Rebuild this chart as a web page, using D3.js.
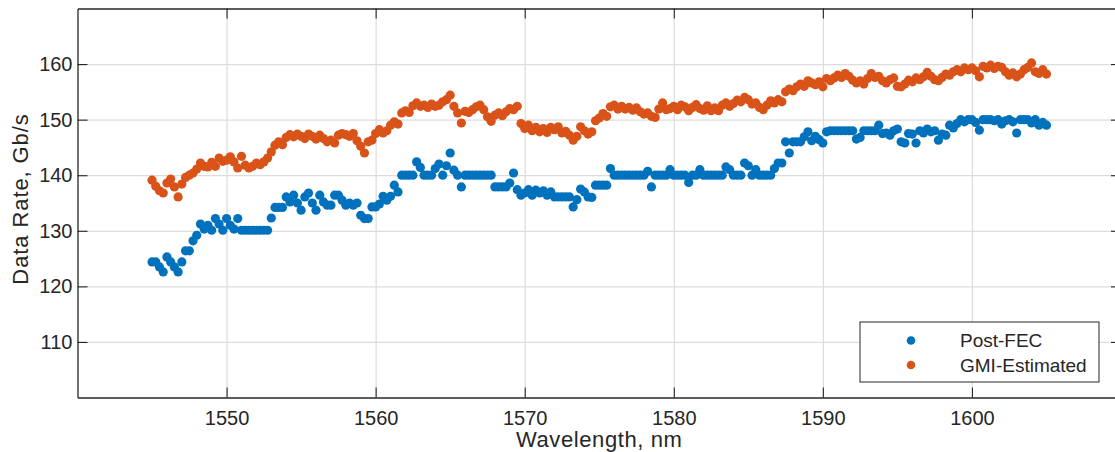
<!DOCTYPE html>
<html>
<head>
<meta charset="utf-8">
<script src="https://cdn.jsdelivr.net/npm/d3@7"></script>
<style>
  html, body { margin: 0; padding: 0; background: #fff; }
  svg { display: block; font-family: "Liberation Sans", Arial, Helvetica, sans-serif; }
</style>
</head>
<body>
<svg id="chart" width="1115" height="452"></svg>
<script>
// channel grid, 0.25 nm spacing from 1545 to 1605 nm
const wavelengths = d3.range(1545, 1605.25, 0.25);

// Post-FEC data rate, Gb/s (one row = 5 nm)
const postFEC = [
  124.4, 124.4, 123.5, 122.6, 125.3, 124.4, 123.5, 122.6, 124.4, 126.4, 126.4, 128.2, 129.2, 131.2, 130.3, 131.0, 130.1, 132.2, 131.2, 130.1,
  132.2, 131.0, 130.3, 132.2, 130.1, 130.1, 130.1, 130.1, 130.1, 130.1, 130.1, 130.1, 132.3, 134.2, 134.2, 134.2, 136.1, 135.2, 136.4, 135.0,
  133.7, 136.1, 136.8, 135.0, 133.7, 136.4, 135.2, 134.6, 134.6, 136.4, 136.4, 135.5, 134.6, 135.0, 134.6, 135.0, 132.8, 132.2, 132.2, 134.3,
  134.3, 134.8, 136.2, 135.5, 136.2, 138.2, 137.0, 140.0, 140.0, 140.0, 140.0, 142.4, 141.4, 140.0, 140.0, 140.0, 141.2, 142.0, 140.0, 141.7,
  144.0, 140.9, 140.0, 137.9, 140.0, 140.0, 140.0, 140.0, 140.0, 140.0, 140.0, 140.0, 137.9, 137.9, 137.9, 137.9, 138.6, 140.4, 137.4, 136.4,
  136.8, 137.4, 136.4, 137.3, 136.8, 137.2, 136.4, 137.0, 136.1, 136.1, 136.1, 136.1, 136.1, 134.3, 135.6, 137.5, 137.0, 136.1, 136.0, 138.2,
  138.2, 138.2, 138.2, 141.2, 140.0, 140.0, 140.0, 140.0, 140.0, 140.0, 140.0, 140.0, 140.0, 140.7, 137.9, 140.0, 140.0, 140.0, 140.0, 141.0,
  140.0, 140.0, 140.0, 140.0, 138.7, 140.0, 140.0, 141.0, 140.0, 140.0, 140.0, 140.0, 140.0, 140.0, 141.5, 141.0, 140.0, 140.0, 140.0, 142.2,
  141.7, 140.0, 141.0, 140.0, 140.0, 140.0, 140.0, 141.2, 142.2, 142.2, 146.0, 144.0, 146.0, 146.0, 146.0, 146.9, 147.8, 146.2, 147.0, 146.4,
  145.8, 147.8, 148.0, 148.0, 148.0, 148.0, 148.0, 148.0, 148.0, 146.5, 146.8, 148.0, 148.0, 148.0, 148.0, 149.0, 147.5, 147.6, 147.2, 148.0,
  148.3, 146.0, 145.8, 147.5, 147.4, 145.8, 148.0, 147.6, 148.3, 147.8, 148.0, 146.3, 147.4, 147.2, 149.0, 148.5, 149.3, 150.0, 149.6, 150.0,
  150.0, 149.5, 148.1, 150.0, 150.0, 150.0, 149.8, 150.0, 149.2, 149.8, 150.0, 149.6, 147.6, 150.0, 150.0, 150.0, 149.4, 150.0, 149.0, 149.5,
  149.0
];

// GMI-estimated data rate, Gb/s (one row = 5 nm)
const gmiEstimated = [
  139.1, 138.0, 137.2, 136.8, 138.6, 139.3, 137.9, 136.1, 138.4, 139.6, 140.0, 140.4, 141.1, 142.2, 141.6, 141.5, 142.3, 141.6, 143.1, 142.5,
  142.7, 143.3, 142.4, 141.3, 143.4, 141.8, 141.3, 141.6, 142.2, 141.9, 142.4, 143.1, 144.2, 145.4, 146.0, 145.5, 146.8, 147.3, 146.9, 147.4,
  147.0, 146.6, 147.4, 147.0, 146.5, 147.2, 146.6, 146.0, 146.3, 145.8, 147.2, 147.5, 147.3, 147.0, 147.5, 146.2, 145.2, 144.0, 146.0, 146.3,
  147.5, 148.2, 147.6, 148.0, 149.0, 149.6, 149.2, 151.2, 151.6, 151.3, 152.5, 153.0, 152.4, 152.6, 152.2, 152.8, 152.4, 152.6, 153.2, 153.6,
  154.4, 152.4, 151.2, 149.4, 151.5, 151.3, 151.8, 152.3, 152.6, 151.8, 150.5, 149.7, 150.8, 151.2, 150.7, 151.4, 152.0, 151.8, 152.4, 149.3,
  148.4, 149.0, 148.0, 148.6, 147.8, 148.4, 147.7, 148.6, 148.2, 148.7, 147.6, 147.9, 147.2, 146.3, 147.0, 148.7, 148.0, 147.4, 147.8, 149.8,
  150.3, 151.1, 150.6, 152.3, 152.6, 151.9, 152.4, 151.9, 152.2, 151.7, 152.1, 151.4, 151.0, 151.2, 150.6, 150.4, 151.9, 153.0, 151.8, 152.0,
  152.4, 151.8, 152.6, 152.3, 151.6, 152.2, 152.7, 152.0, 151.7, 152.5, 151.6, 152.1, 151.6, 152.6, 153.0, 152.4, 152.9, 153.5, 153.2, 154.0,
  153.6, 152.8, 153.0, 152.2, 151.8, 152.6, 153.4, 153.0, 153.6, 153.2, 155.0, 155.5, 155.2, 155.9, 156.4, 156.0, 157.0, 156.6, 156.3, 156.8,
  155.9, 157.4, 157.0, 157.5, 158.0, 157.6, 158.3, 157.8, 157.1, 156.6, 157.0, 156.4, 157.4, 158.3, 157.6, 157.8, 157.0, 156.6, 157.2, 157.5,
  156.0, 155.9, 156.4, 157.1, 156.8, 157.5, 157.2, 157.7, 158.5, 157.8, 157.2, 157.0, 157.6, 158.2, 158.0, 158.6, 159.0, 158.6, 159.3, 159.0,
  159.3, 158.8, 157.7, 159.6, 159.3, 159.8, 159.2, 159.6, 159.4, 158.6, 158.0, 158.4, 157.7, 158.2, 159.0, 159.4, 160.2, 158.6, 158.3, 159.0,
  158.2
];

const seriesNames = ["Post-FEC", "GMI-Estimated"];
const seriesColors = ["#0072BD", "#D95319"];
const xTicks = [1550, 1560, 1570, 1580, 1590, 1600];
const yTicks = [110, 120, 130, 140, 150, 160];

const plot = {left: 77.5, top: 8.5, right: 1121, bottom: 397.5};
const width = plot.right - plot.left;
const height = plot.bottom - plot.top;
const axisColor = "#262626";

let svg = d3.select("#chart");

let x = d3.scaleLinear()
    .domain([1540, 1610])
    .range([plot.left, plot.right]);

let y = d3.scaleLinear()
    .domain([100, 170])
    .range([plot.bottom, plot.top]);

// grid
svg.append("g")
    .attr("class", "grid")
    .attr("transform", "translate(0," + plot.bottom + ")")
    .call(d3.axisBottom(x).tickValues(xTicks).tickSize(-height).tickFormat(""))
    .call(g => g.select(".domain").remove())
    .call(g => g.selectAll("line").attr("stroke", "#dcdcdc").attr("stroke-width", 1.2));

svg.append("g")
    .attr("class", "grid")
    .attr("transform", "translate(" + plot.left + ",0)")
    .call(d3.axisLeft(y).tickValues(yTicks).tickSize(-width).tickFormat(""))
    .call(g => g.select(".domain").remove())
    .call(g => g.selectAll("line").attr("stroke", "#dcdcdc").attr("stroke-width", 1.2));

// points
[postFEC, gmiEstimated].forEach(function(values, k) {
    svg.append("g")
        .attr("fill", seriesColors[k])
        .selectAll("circle")
        .data(values)
        .enter()
        .append("circle")
            .attr("cx", (d, i) => x(wavelengths[i]))
            .attr("cy", d => y(d))
            .attr("r", 4.6);
});

// axes, ticks pointing inward on all four sides
function styleAxis(g) {
    g.select(".domain").attr("stroke", axisColor).attr("stroke-width", 1.3);
    g.selectAll(".tick line").attr("stroke", axisColor).attr("stroke-width", 1.1);
    g.selectAll(".tick text").attr("fill", axisColor).style("font-size", "20px");
}

svg.append("g")
    .attr("transform", "translate(0," + plot.bottom + ")")
    .call(d3.axisBottom(x).tickValues(xTicks).tickSizeInner(-10).tickSizeOuter(0).tickPadding(8).tickFormat(d3.format("d")))
    .call(styleAxis)
    .call(g => g.selectAll(".tick text").attr("dy", "0.95em"));

svg.append("g")
    .attr("transform", "translate(0," + plot.top + ")")
    .call(d3.axisTop(x).tickValues(xTicks).tickSizeInner(-10).tickSizeOuter(0).tickFormat(""))
    .call(styleAxis);

svg.append("g")
    .attr("transform", "translate(" + plot.left + ",0)")
    .call(d3.axisLeft(y).tickValues(yTicks).tickSizeInner(-10).tickSizeOuter(0).tickPadding(5).tickFormat(d3.format("d")))
    .call(styleAxis);

svg.append("g")
    .attr("transform", "translate(" + plot.right + ",0)")
    .call(d3.axisRight(y).tickValues(yTicks).tickSizeInner(-10).tickSizeOuter(0).tickFormat(""))
    .call(styleAxis);

// axis labels
svg.append("text")
    .attr("x", (plot.left + plot.right) / 2)
    .attr("y", 447)
    .attr("text-anchor", "middle")
    .attr("fill", axisColor)
    .style("font-size", "22px")
    .style("letter-spacing", "0.6px")
    .text("Wavelength, nm");

svg.append("text")
    .attr("transform", "translate(28," + 199 + ") rotate(-90)")
    .attr("text-anchor", "middle")
    .attr("fill", axisColor)
    .style("font-size", "22px")
    .style("letter-spacing", "0.9px")
    .text("Data Rate, Gb/s");

// legend
let legend = svg.append("g")
    .attr("transform", "translate(860,322)");

legend.append("rect")
    .attr("width", 239)
    .attr("height", 60)
    .attr("fill", "#fff")
    .attr("stroke", axisColor)
    .attr("stroke-width", 1);

seriesNames.forEach(function(name, k) {
    legend.append("circle")
        .attr("cx", 51)
        .attr("cy", 18.5 + k * 24.5)
        .attr("r", 4.3)
        .attr("fill", seriesColors[k]);
    legend.append("text")
        .attr("x", 100)
        .attr("y", 18.5 + k * 24.5)
        .attr("dy", "0.35em")
        .attr("fill", axisColor)
        .style("font-size", "19px")
        .text(name);
});
</script>
</body>
</html>
